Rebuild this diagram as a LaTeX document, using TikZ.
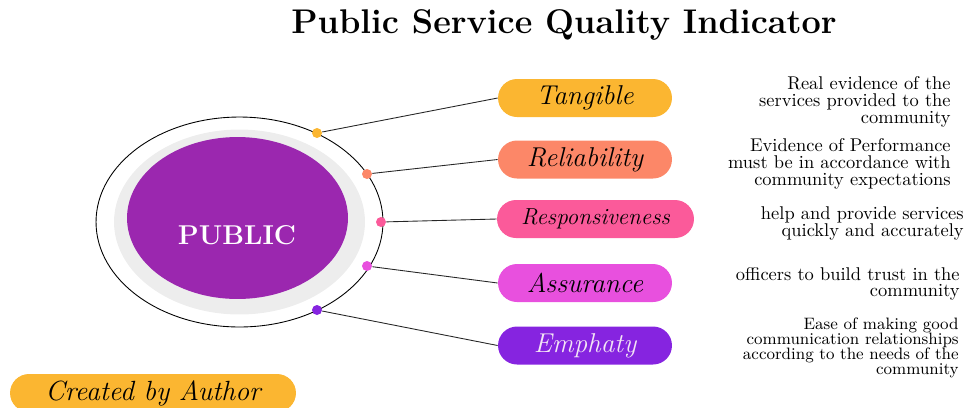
\documentclass[tikz,border=0pt]{standalone}
\usetikzlibrary{shapes.misc}

\definecolor{publicC}{HTML}{9B27AF}
\definecolor{ringC}{HTML}{EDEDED}
\definecolor{tangC}{HTML}{FBB631}
\definecolor{reliC}{HTML}{FC8768}
\definecolor{respC}{HTML}{FB5A9A}
\definecolor{assuC}{HTML}{E850DE}
\definecolor{emphC}{HTML}{8624E0}
\definecolor{emphT}{HTML}{F3E5F5}

\begin{document}
\begin{tikzpicture}[x=0.02cm, y=-0.02cm,
    pill/.style={rounded rectangle, minimum width=3.48cm, minimum height=0.76cm,
      inner sep=0pt, font=\fontsize{15.5}{15.5}\selectfont\itshape},
    dot/.style={circle, inner sep=0pt, minimum size=0.2cm},
    desc/.style={anchor=east, align=right, inner sep=0pt,
      font=\fontsize{10.5}{9.5}\selectfont},
    link/.style={draw=black!85, line width=0.5pt}]
            \useasboundingbox (0,0) rectangle (966,407);

            \path (239.5,222) coordinate (C);
            \path (237.5,218) coordinate (P);

            \node[font=\fontsize{19.5}{20}\selectfont\bfseries] (title) at (564,25) {Public Service Quality Indicator};

            \draw[line width=0.5pt] (C) ellipse [x radius=2.87cm, y radius=2.1cm];
            \fill[ringC] (C) ellipse [x radius=2.51cm, y radius=1.85cm];
            \fill[publicC] (P) ellipse [x radius=2.21cm, y radius=1.62cm];
            \node[text=white, font=\fontsize{15.5}{15.5}\selectfont\bfseries] (public) at (237,235) {PUBLIC};

            \node[dot, fill=tangC] (d1) at (317,133) {};
            \node[dot, fill=reliC] (d2) at (367,174) {};
            \node[dot, fill=respC] (d3) at (381,222) {};
            \node[dot, fill=assuC] (d4) at (367,266) {};
            \node[dot, fill=emphC] (d5) at (317,310) {};

            \node[pill, fill=tangC] (tang) at (585,98) {Tangible};
            \node[pill, fill=reliC] (reli) at (585,159.5) {Reliability};
            \node[pill, fill=respC, minimum width=3.94cm, font=\fontsize{13.2}{13.2}\selectfont\itshape] (resp) at (595.5,219) {Responsiveness};
            \node[pill, fill=assuC] (assu) at (585,283) {Assurance};
            \node[pill, fill=emphC, text=emphT] (emph) at (585,345.5) {Emphaty};

            \draw[link] (d1) -- (tang.west);
            \draw[link] (d2) -- (reli.west);
            \draw[link] (d3) -- (resp.west);
            \draw[link] (d4) -- (assu.west);
            \draw[link] (d5) -- (emph.west);

            \node[desc] (t1) at (951,102) {Real evidence of the\\services provided to the\\community};
            \node[desc] (t2) at (951,164) {Evidence of Performance\\must be in accordance with\\community expectations};
            \node[desc] (t3) at (964,223.5) {help and provide services\\quickly and accurately};
            \node[desc] (t4) at (960,284) {officers to build trust in the\\community};
            \node[desc, font=\fontsize{9.4}{8.5}\selectfont] (t5) at (959,347.5) {Ease of making good\\communication relationships\\according to the needs of the\\community};

            \node[pill, fill=tangC, minimum width=5.72cm, font=\fontsize{15.8}{15.8}\selectfont\itshape] (author) at (153,393) {Created by Author};
        \end{tikzpicture}
\end{document}
